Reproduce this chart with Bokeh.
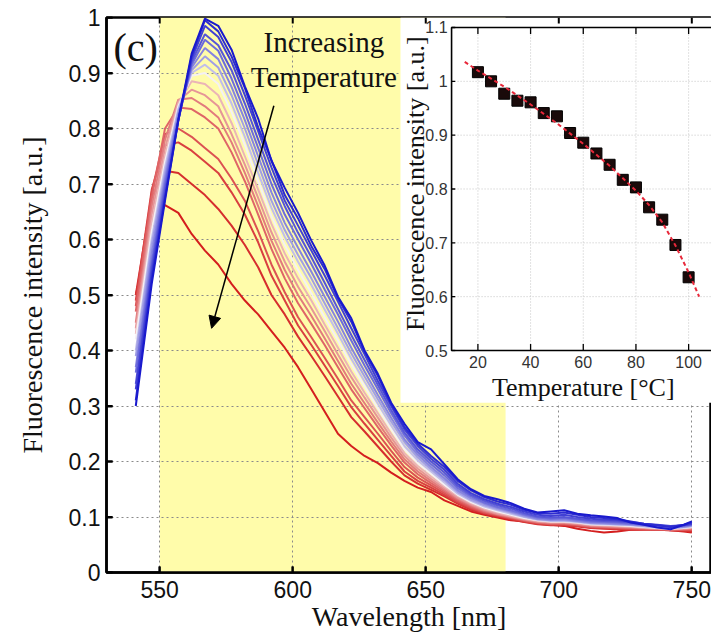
import math
from bokeh.plotting import figure
from bokeh.models import (Range1d, FixedTicker, Arrow, NormalHead,
                          Label, CustomJSTickFormatter)
from bokeh.core.properties import value
from bokeh.embed import file_html
from bokeh.resources import INLINE

# ---------------- data ----------------
wavelength = [541, 547, 552, 557, 562, 567, 572, 577, 582, 587, 592, 597, 602, 607,
              612, 617, 622, 627, 632, 637, 642, 647, 652, 657, 662, 667, 672, 677,
              682, 687, 692, 697, 702, 707, 712, 717, 722, 727, 732, 737, 742, 747, 750]

temperatures = [20, 25, 30, 35, 40, 45, 50, 55, 60, 65, 70, 75, 80, 85, 90, 95, 100]

spec_20 = [0.30, 0.52, 0.67, 0.815, 0.935, 0.998, 0.985, 0.942, 0.876, 0.818, 0.742, 0.693,
           0.648, 0.598, 0.553, 0.497, 0.458, 0.40, 0.358, 0.306, 0.268,
           0.235, 0.222, 0.195, 0.168, 0.150, 0.138, 0.132, 0.125, 0.115, 0.108, 0.110,
           0.112, 0.106, 0.103, 0.101, 0.098, 0.090, 0.086, 0.081, 0.078, 0.086, 0.092]
spec_25 = [0.31, 0.53, 0.675, 0.815, 0.93, 0.995, 0.975, 0.93, 0.873, 0.802, 0.743, 0.68,
           0.638, 0.588, 0.547, 0.494, 0.452, 0.398, 0.354, 0.303, 0.262,
           0.232, 0.21, 0.19, 0.165, 0.148, 0.136, 0.128, 0.122, 0.113, 0.107, 0.106,
           0.108, 0.104, 0.100, 0.098, 0.096, 0.092, 0.088, 0.085, 0.082, 0.086, 0.090]
spec_30 = [0.33, 0.54, 0.68, 0.815, 0.925, 0.985, 0.965, 0.92, 0.86, 0.795, 0.73, 0.67,
           0.625, 0.58, 0.535, 0.488, 0.44, 0.393, 0.345, 0.30, 0.258,
           0.228, 0.205, 0.185, 0.160, 0.143, 0.132, 0.124, 0.118, 0.110, 0.104, 0.102,
           0.104, 0.100, 0.097, 0.095, 0.094, 0.091, 0.088, 0.086, 0.084, 0.085, 0.088]
spec_35 = [0.34, 0.55, 0.69, 0.815, 0.92, 0.97, 0.95, 0.905, 0.845, 0.78, 0.715, 0.66,
           0.612, 0.568, 0.522, 0.475, 0.428, 0.383, 0.338, 0.293, 0.252,
           0.222, 0.20, 0.18, 0.156, 0.140, 0.129, 0.121, 0.115, 0.107, 0.101, 0.099,
           0.100, 0.097, 0.094, 0.093, 0.092, 0.090, 0.087, 0.085, 0.083, 0.085, 0.087]
spec_40 = [0.36, 0.56, 0.70, 0.82, 0.915, 0.96, 0.94, 0.89, 0.83, 0.765, 0.70, 0.645,
           0.60, 0.556, 0.51, 0.465, 0.418, 0.373, 0.33, 0.287, 0.247,
           0.217, 0.195, 0.175, 0.152, 0.137, 0.126, 0.118, 0.112, 0.105, 0.099, 0.097,
           0.098, 0.095, 0.092, 0.091, 0.090, 0.088, 0.086, 0.084, 0.082, 0.084, 0.086]
spec_45 = [0.37, 0.575, 0.71, 0.825, 0.91, 0.945, 0.925, 0.875, 0.815, 0.75, 0.685, 0.63,
           0.585, 0.542, 0.497, 0.452, 0.405, 0.362, 0.32, 0.279, 0.24,
           0.212, 0.19, 0.17, 0.148, 0.134, 0.124, 0.116, 0.110, 0.103, 0.097, 0.095,
           0.096, 0.093, 0.090, 0.089, 0.088, 0.087, 0.085, 0.083, 0.081, 0.083, 0.085]
spec_50 = [0.39, 0.59, 0.72, 0.83, 0.905, 0.93, 0.91, 0.86, 0.80, 0.735, 0.67, 0.617,
           0.572, 0.53, 0.485, 0.44, 0.395, 0.353, 0.312, 0.272, 0.235,
           0.207, 0.186, 0.166, 0.145, 0.131, 0.121, 0.114, 0.108, 0.101, 0.096, 0.094,
           0.094, 0.092, 0.089, 0.088, 0.087, 0.086, 0.084, 0.082, 0.080, 0.082, 0.084]
spec_55 = [0.40, 0.60, 0.73, 0.835, 0.90, 0.915, 0.895, 0.845, 0.785, 0.72, 0.657, 0.605,
           0.56, 0.518, 0.474, 0.43, 0.385, 0.344, 0.304, 0.265, 0.228,
           0.202, 0.182, 0.162, 0.142, 0.129, 0.119, 0.112, 0.106, 0.100, 0.095, 0.093,
           0.093, 0.091, 0.088, 0.087, 0.086, 0.085, 0.083, 0.081, 0.080, 0.081, 0.083]
spec_60 = [0.42, 0.615, 0.74, 0.84, 0.895, 0.90, 0.88, 0.83, 0.77, 0.705, 0.642, 0.59,
           0.545, 0.503, 0.46, 0.418, 0.375, 0.335, 0.296, 0.258, 0.222,
           0.197, 0.178, 0.158, 0.140, 0.127, 0.117, 0.110, 0.104, 0.098, 0.094, 0.092,
           0.092, 0.090, 0.087, 0.086, 0.085, 0.084, 0.082, 0.080, 0.079, 0.080, 0.082]
spec_65 = [0.43, 0.63, 0.75, 0.845, 0.885, 0.88, 0.86, 0.81, 0.75, 0.69, 0.628, 0.575,
           0.53, 0.49, 0.447, 0.405, 0.362, 0.324, 0.287, 0.25, 0.215,
           0.192, 0.173, 0.155, 0.138, 0.125, 0.115, 0.108, 0.102, 0.097, 0.093, 0.091,
           0.091, 0.089, 0.086, 0.085, 0.084, 0.083, 0.081, 0.080, 0.079, 0.080, 0.081]
spec_70 = [0.44, 0.645, 0.765, 0.85, 0.87, 0.86, 0.84, 0.79, 0.735, 0.675, 0.613, 0.56,
           0.515, 0.476, 0.435, 0.393, 0.352, 0.315, 0.279, 0.243, 0.21,
           0.187, 0.169, 0.152, 0.135, 0.123, 0.113, 0.106, 0.101, 0.096, 0.092, 0.090,
           0.090, 0.088, 0.085, 0.084, 0.083, 0.082, 0.080, 0.079, 0.078, 0.079, 0.080]
spec_75 = [0.45, 0.66, 0.78, 0.852, 0.855, 0.84, 0.82, 0.775, 0.72, 0.66, 0.598, 0.545,
           0.50, 0.462, 0.422, 0.381, 0.34, 0.305, 0.27, 0.236, 0.204,
           0.182, 0.165, 0.149, 0.133, 0.121, 0.111, 0.105, 0.100, 0.095, 0.091, 0.089,
           0.089, 0.087, 0.084, 0.083, 0.082, 0.081, 0.080, 0.079, 0.078, 0.078, 0.079]
spec_80 = [0.47, 0.675, 0.80, 0.838, 0.835, 0.82, 0.80, 0.757, 0.705, 0.645, 0.583, 0.53,
           0.485, 0.448, 0.41, 0.37, 0.33, 0.296, 0.262, 0.229, 0.198,
           0.177, 0.161, 0.146, 0.131, 0.119, 0.110, 0.104, 0.099, 0.094, 0.090, 0.088,
           0.088, 0.086, 0.083, 0.082, 0.081, 0.080, 0.079, 0.078, 0.077, 0.078, 0.078]
spec_85 = [0.48, 0.685, 0.79, 0.80, 0.785, 0.765, 0.745, 0.71, 0.67, 0.615, 0.555, 0.505,
           0.46, 0.424, 0.387, 0.349, 0.31, 0.28, 0.25, 0.219, 0.19,
           0.171, 0.157, 0.143, 0.128, 0.117, 0.108, 0.103, 0.098, 0.093, 0.089, 0.087,
           0.087, 0.085, 0.082, 0.081, 0.080, 0.079, 0.079, 0.078, 0.077, 0.077, 0.077]
spec_90 = [0.49, 0.69, 0.77, 0.775, 0.76, 0.74, 0.72, 0.685, 0.645, 0.595, 0.535, 0.49,
           0.445, 0.41, 0.373, 0.336, 0.298, 0.268, 0.239, 0.21, 0.182,
           0.165, 0.153, 0.140, 0.126, 0.115, 0.107, 0.102, 0.097, 0.092, 0.088, 0.086,
           0.086, 0.084, 0.081, 0.080, 0.079, 0.078, 0.078, 0.077, 0.076, 0.076, 0.076]
spec_95 = [0.50, 0.675, 0.724, 0.72, 0.70, 0.68, 0.655, 0.625, 0.59, 0.55, 0.50, 0.465,
           0.425, 0.39, 0.354, 0.317, 0.28, 0.254, 0.227, 0.20, 0.175,
           0.16, 0.149, 0.137, 0.124, 0.113, 0.106, 0.101, 0.096, 0.091, 0.087, 0.085,
           0.085, 0.083, 0.080, 0.079, 0.078, 0.077, 0.077, 0.077, 0.076, 0.075, 0.074]
spec_100 = [0.50, 0.62, 0.662, 0.648, 0.61, 0.58, 0.555, 0.52, 0.49, 0.465, 0.435, 0.405,
            0.37, 0.33, 0.29, 0.25, 0.228, 0.21, 0.197, 0.18, 0.165,
            0.153, 0.145, 0.13, 0.12, 0.11, 0.104, 0.099, 0.094, 0.092, 0.089, 0.086,
            0.084, 0.079, 0.075, 0.072, 0.074, 0.077, 0.078, 0.079, 0.076, 0.074, 0.072]

spectra = [spec_20, spec_25, spec_30, spec_35, spec_40, spec_45, spec_50, spec_55, spec_60,
           spec_65, spec_70, spec_75, spec_80, spec_85, spec_90, spec_95, spec_100]

# inset: fluorescence vs temperature
inset_temp = [20, 25, 30, 35, 40, 45, 50, 55, 60, 65, 70, 75, 80, 85, 90, 95, 100]
inset_intensity = [1.017, 1.0, 0.977, 0.964, 0.961, 0.941, 0.935, 0.904, 0.886, 0.866,
                   0.845, 0.817, 0.803, 0.766, 0.743, 0.696, 0.636]
fit_temp = [15, 20, 30, 40, 50, 60, 70, 80, 85, 90, 95, 100, 104]
fit_intensity = [1.036, 1.02, 0.99, 0.957, 0.922, 0.884, 0.843, 0.797, 0.77, 0.738,
                 0.695, 0.645, 0.60]

x_ticks = [550, 600, 650, 700, 750]
y_ticks = [0, 0.1, 0.2, 0.3, 0.4, 0.5, 0.6, 0.7, 0.8, 0.9, 1.0]
inset_x_ticks = [20, 40, 60, 80, 100]
inset_x_labels = ["20", "40", "60", "80", "100"]
inset_y_ticks = [0.5, 0.6, 0.7, 0.8, 0.9, 1.0, 1.1]
inset_y_labels = ["0.5", "0.6", "0.7", "0.8", "0.9", "1", "1.1"]

band_start, band_end = 550, 680

# ---------------- layout constants ----------------
X_START, X_END = 530.0, 757.4
Y_START, Y_END = 0.0, 1.0
INSET_X_SRC = (10, 110)
INSET_Y_SRC = (0.5, 1.1)
INSET_X_TGT = (659.7, 758.7)
INSET_Y_TGT = (0.40, 0.982)
INSET_BG = (640.5, 0.306)
TICK_X = 2.3     # 6 px in wavelength units
TICK_Y = 0.011   # 6 px in intensity units

SERIF = "Liberation Serif"
SANS = "Liberation Sans"

p = figure(width=711, height=639, x_range=Range1d(X_START, X_END),
           y_range=Range1d(Y_START, Y_END),
           output_backend="svg", toolbar_location=None,
           min_border_left=106, min_border_top=17, min_border_right=0, min_border_bottom=67)
p.outline_line_color = "black"
p.outline_line_width = 2.5
p.background_fill_color = "white"

# axes
for ax in (p.xaxis[0], p.yaxis[0]):
    ax.axis_line_width = 2.5
    ax.axis_line_color = "black"
    ax.major_tick_in = 6
    ax.major_tick_out = 0
    ax.major_tick_line_width = 2
    ax.major_tick_line_color = "black"
    ax.minor_tick_in = 0
    ax.minor_tick_out = 0
    ax.major_label_text_font = SANS
    ax.major_label_text_font_size = "23px"
    ax.major_label_text_color = "#111111"
    ax.axis_label_text_font = SERIF
    ax.axis_label_text_font_size = "28px"
    ax.axis_label_text_font_style = "normal"
    ax.axis_label_text_color = "#111111"

p.xaxis.ticker = FixedTicker(ticks=x_ticks)
p.yaxis.ticker = FixedTicker(ticks=y_ticks)
p.yaxis.formatter = CustomJSTickFormatter(
    code="return (Math.abs(tick) < 1e-9) ? '0' : (Math.abs(tick - 1) < 1e-9 ? '1' : tick.toFixed(1));")
p.xaxis.axis_label = "Wavelength [nm]"
p.yaxis.axis_label = "Fluorescence intensity [a.u.]"
p.xaxis.major_label_standoff = 8
p.xaxis.axis_label_standoff = 0
p.yaxis.major_label_standoff = 6
p.yaxis.axis_label_standoff = 18

# grid
for g in (p.xgrid[0], p.ygrid[0]):
    g.grid_line_color = "#8a8a8a"
    g.grid_line_dash = "2 3"
    g.grid_line_width = 1
p.xgrid.ticker = FixedTicker(ticks=x_ticks)
p.ygrid.ticker = FixedTicker(ticks=y_ticks)

# yellow band (below grid)
p.quad(left=[band_start], right=[band_end], bottom=[Y_START], top=[Y_END],
       fill_color="#fffcaa", line_color=None, level="image")

# white inset background
p.quad(left=[INSET_BG[0]], right=[X_END + 10], bottom=[INSET_BG[1]], top=[Y_END],
       fill_color="white", line_color=None)

# inward box ticks (MATLAB style)
nx, ny = len(x_ticks), len(y_ticks)
p.segment(x0=x_ticks, y0=[Y_START] * nx, x1=x_ticks, y1=[Y_START + TICK_Y] * nx,
          line_color="black", line_width=2)
p.segment(x0=x_ticks, y0=[Y_END] * nx, x1=x_ticks, y1=[Y_END - TICK_Y] * nx,
          line_color="black", line_width=2)
p.segment(x0=[X_START] * ny, y0=y_ticks, x1=[X_START + TICK_X] * ny, y1=y_ticks,
          line_color="black", line_width=2)

# colours blue -> white -> red (diverging, leaving white quickly)
blue = (25, 25, 205)
white = (244, 240, 244)
red = (212, 30, 30)

def mix(c1, c2, t):
    return "#%02x%02x%02x" % tuple(int(round(a + (b - a) * t)) for a, b in zip(c1, c2))

n = len(spectra)
colors = []
for i in range(n):
    t = i / (n - 1)
    if t <= 0.5:
        colors.append(mix(white, blue, ((0.5 - t) / 0.5) ** 0.7))
    else:
        colors.append(mix(white, red, ((t - 0.5) / 0.5) ** 0.6))

for i in reversed(range(n)):
    p.line(wavelength, spectra[i], line_color=colors[i], line_width=2)

# annotations
p.add_layout(Arrow(end=NormalHead(size=12, fill_color="black", line_color="black"),
                   x_start=592.9, y_start=0.841, x_end=569.5, y_end=0.44,
                   line_width=1.5, line_color="black"))
p.add_layout(Label(x=532.6, y=0.946, text="(c)", text_font=SERIF, text_font_size="40px",
                   text_baseline="alphabetic", text_color="#111111"))
p.add_layout(Label(x=611.7, y=0.956, text="Increasing", text_font=SERIF,
                   text_font_size="29px", text_align="center", text_baseline="alphabetic",
                   text_color="#111111"))
p.add_layout(Label(x=611.7, y=0.892, text="Temperature", text_font=SERIF,
                   text_font_size="29px", text_align="center", text_baseline="alphabetic",
                   text_color="#111111"))

# ---------------- inset (sub-coordinates) ----------------
ins = p.subplot(x_source=Range1d(*INSET_X_SRC), y_source=Range1d(*INSET_Y_SRC),
                x_target=Range1d(*INSET_X_TGT), y_target=Range1d(*INSET_Y_TGT))

x0, x1 = INSET_X_SRC
y0, y1 = INSET_Y_SRC
# inset grid
ins.segment(x0=inset_x_ticks, y0=[y0] * len(inset_x_ticks), x1=inset_x_ticks,
            y1=[y1] * len(inset_x_ticks), line_color="#c4c4c4", line_dash="1 2", line_width=1)
mid_y = inset_y_ticks[1:-1]
ins.segment(x0=[x0] * len(mid_y), y0=mid_y, x1=[x1] * len(mid_y), y1=mid_y,
            line_color="#c4c4c4", line_dash="1 2", line_width=1)
# inset frame
ins.quad(left=[x0], right=[x1], bottom=[y0], top=[y1], fill_color=None,
         line_color="black", line_width=1.6)
# ticks (inward)
ins.segment(x0=inset_x_ticks, y0=[y0] * 5, x1=inset_x_ticks, y1=[y0 + 0.012] * 5,
            line_color="black", line_width=1.3)
ins.segment(x0=inset_x_ticks, y0=[y1] * 5, x1=inset_x_ticks, y1=[y1 - 0.012] * 5,
            line_color="black", line_width=1.3)
ins.segment(x0=[x0] * 7, y0=inset_y_ticks, x1=[x0 + 1.4] * 7, y1=inset_y_ticks,
            line_color="black", line_width=1.3)
# data
ins.scatter(inset_temp, inset_intensity, marker="square", size=11,
            fill_color="#1a0a0a", line_color="black", line_width=1)
ins.line(fit_temp, fit_intensity, line_color="#e8283a", line_dash="4 3", line_width=2)
# labels
ins.text(x=inset_x_ticks, y=[y0] * 5, text=inset_x_labels, y_offset=5,
         text_align="center", text_baseline="top", text_font=value(SANS),
         text_font_size="16px", text_color="#333333")
ins.text(x=[x0] * 7, y=inset_y_ticks, text=inset_y_labels, x_offset=-4,
         text_align="right", text_baseline="middle", text_font=value(SANS),
         text_font_size="16px", text_color="#333333")
ins.text(x=[60], y=[y0], text=["Temperature [°C]"], y_offset=22, text_align="center",
         text_baseline="top", text_font=value(SERIF), text_font_size="26px",
         text_color="#111111")
ins.text(x=[x0], y=[0.81], text=["Fluorescence intensity [a.u.]"], x_offset=-36,
         angle=math.pi / 2, text_align="center", text_baseline="middle",
         text_font=value(SERIF), text_font_size="26px", text_color="#111111")

open("out.html", "w").write(file_html(p, INLINE))
